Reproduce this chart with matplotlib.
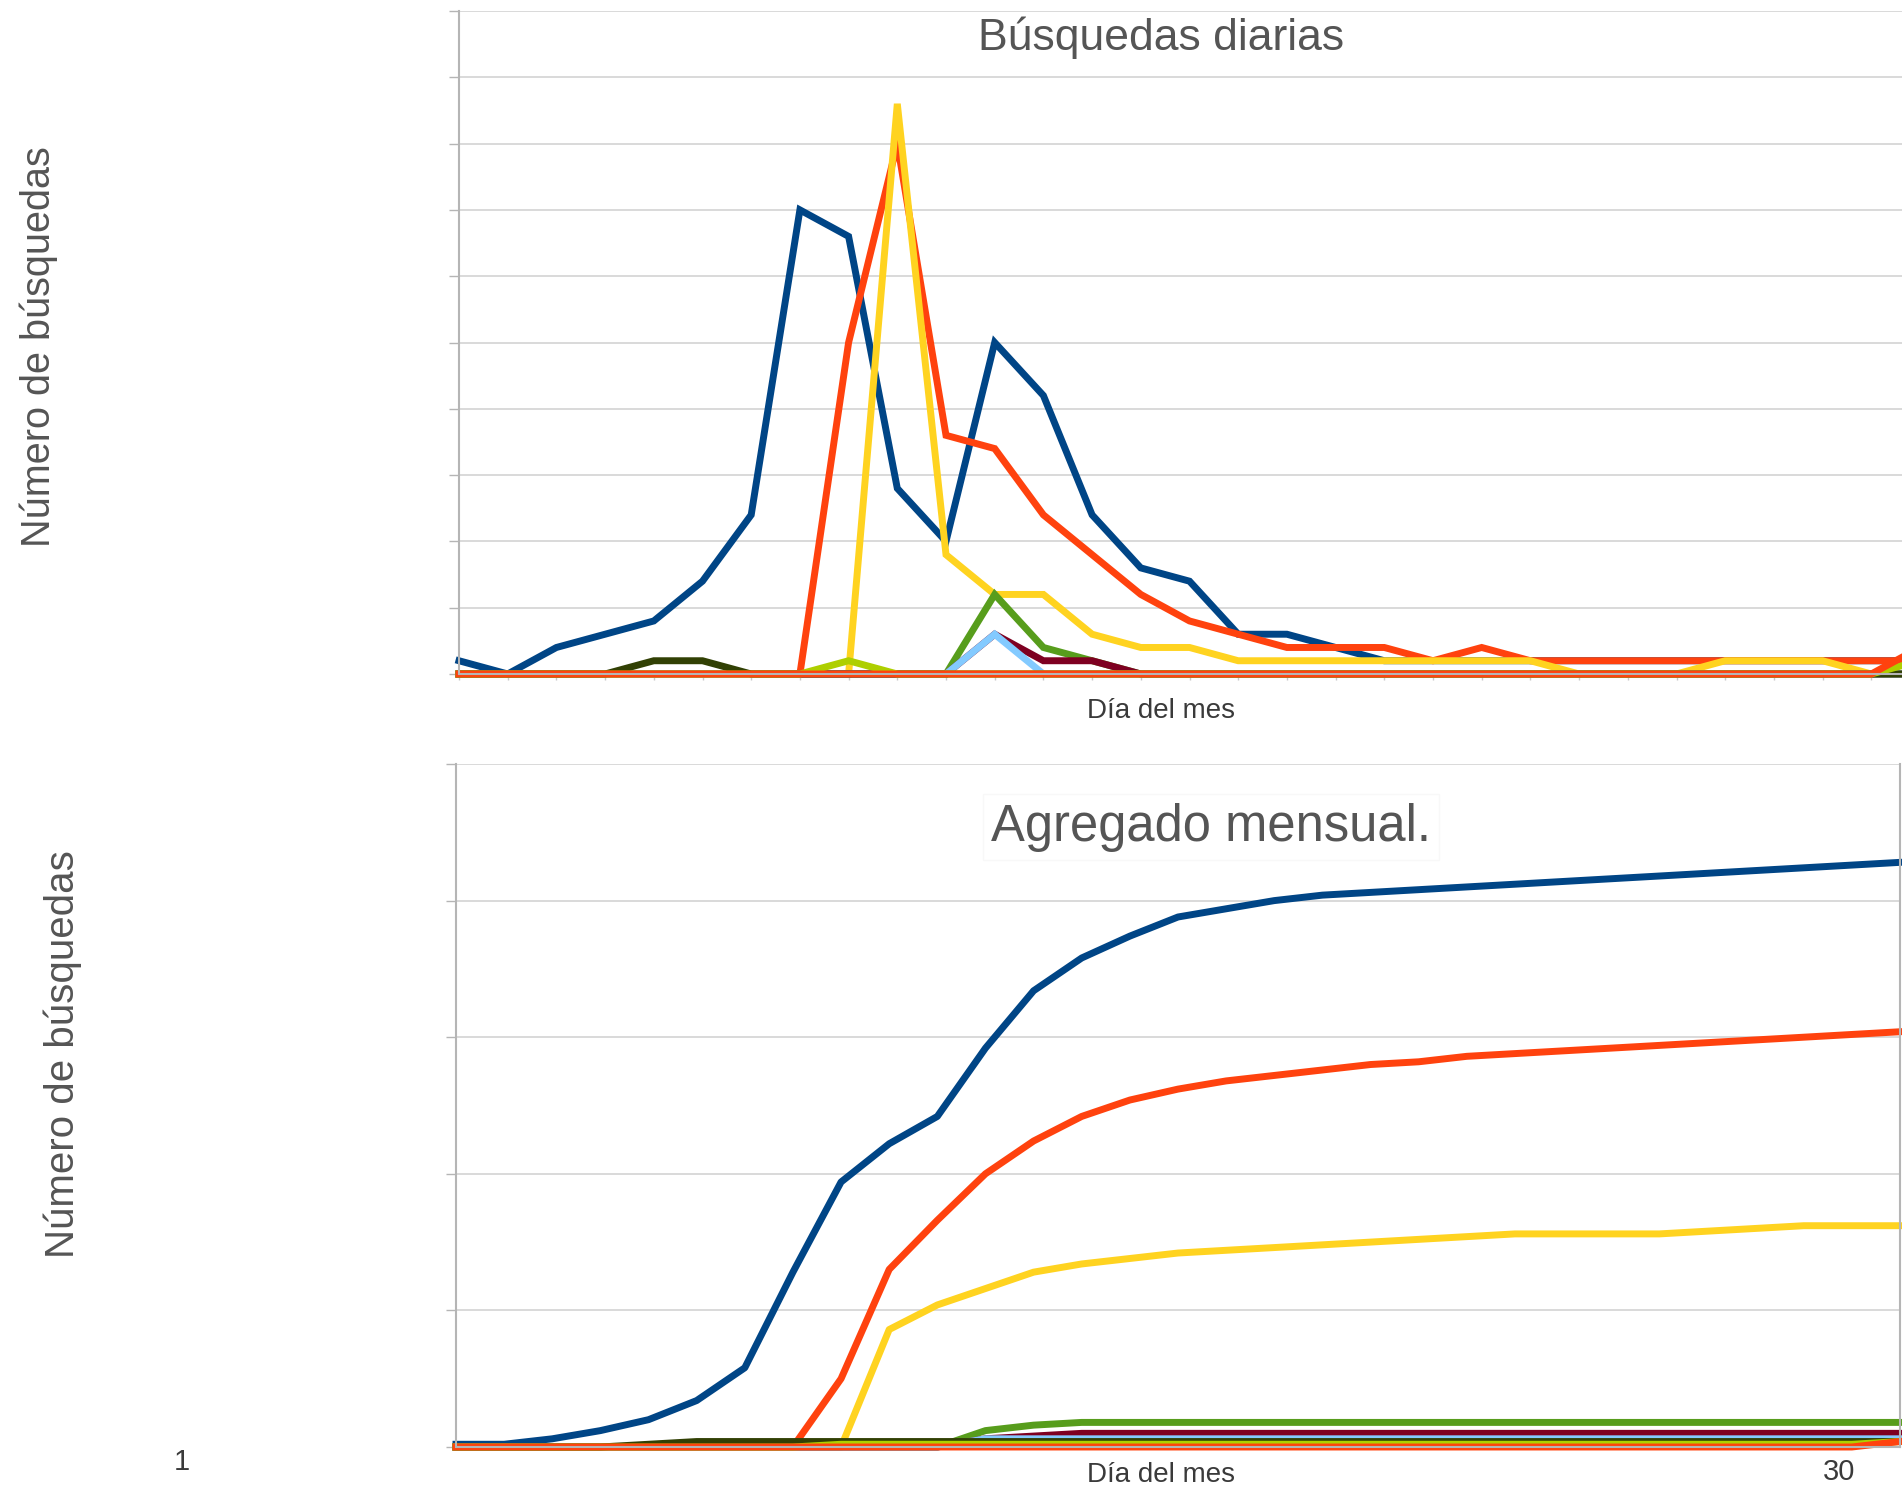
import numpy as np
import matplotlib.pyplot as plt

plt.rcParams['font.family'] = ['Liberation Sans', 'DejaVu Sans']

# Días del mes
dias = np.arange(1, 32)

# Búsquedas diarias por serie
azul = [1, 0, 2, 3, 4, 7, 12, 35, 33, 14, 10, 25, 21, 12, 8, 7, 3, 3, 2, 1,
        1, 1, 1, 1, 1, 1, 1, 1, 1, 1, 1]
rojo = [0, 0, 0, 0, 0, 0, 0, 0, 25, 40, 18, 17, 12, 9, 6, 4, 3, 2, 2, 2,
        1, 2, 1, 1, 1, 1, 1, 1, 1, 1, 1]
amarillo = [0, 0, 0, 0, 0, 0, 0, 0, 0, 43, 9, 6, 6, 3, 2, 2, 1, 1, 1, 1,
            1, 1, 1, 0, 0, 0, 1, 1, 1, 0, 0]
verde = [0, 0, 0, 0, 0, 0, 0, 0, 0, 0, 0, 6, 2, 1, 0, 0, 0, 0, 0, 0,
         0, 0, 0, 0, 0, 0, 0, 0, 0, 0, 0]
granate = [0, 0, 0, 0, 0, 0, 0, 0, 0, 0, 0, 3, 1, 1, 0, 0, 0, 0, 0, 0,
           0, 0, 0, 0, 0, 0, 0, 0, 0, 0, 0]
celeste = [0, 0, 0, 0, 0, 0, 0, 0, 0, 0, 0, 3, 0, 0, 0, 0, 0, 0, 0, 0,
           0, 0, 0, 0, 0, 0, 0, 0, 0, 0, 0]
oliva = [0, 0, 0, 0, 1, 1, 0, 0, 0, 0, 0, 0, 0, 0, 0, 0, 0, 0, 0, 0,
         0, 0, 0, 0, 0, 0, 0, 0, 0, 0, 0]
lima = [0, 0, 0, 0, 0, 0, 0, 0, 1, 0, 0, 0, 0, 0, 0, 0, 0, 0, 0, 0,
        0, 0, 0, 0, 0, 0, 0, 0, 0, 0, 1]
naranja = [0, 0, 0, 0, 0, 0, 0, 0, 0, 0, 0, 0, 0, 0, 0, 0, 0, 0, 0, 0,
           0, 0, 0, 0, 0, 0, 0, 0, 0, 0, 2]

series = [azul, rojo, amarillo, verde, granate, celeste, oliva, lima, naranja]
colores = ['#004586', '#FF420E', '#FFD320', '#579D1C', '#7E0021',
           '#83CAFF', '#314004', '#AECF00', '#FF420E']

W, H = 1902, 1490
fig = plt.figure(figsize=(W / 100, H / 100), dpi=100)
fig.patch.set_facecolor('white')

gris_grid = '#cfcfcf'
gris_eje = '#b5b5b5'
lw = 5.0


def preparar(ax, ymax, paso):
    ax.set_xlim(1, 31)
    ax.set_ylim(0, ymax)
    ax.set_yticks(np.arange(0, ymax + 1, paso))
    ax.set_xticks(dias)
    ax.tick_params(axis='y', direction='out', length=7, width=1.0,
                   color=gris_eje, labelleft=False)
    ax.tick_params(axis='x', direction='out', length=4, width=1,
                   color='#c8c8c8', labelbottom=False)
    ax.yaxis.grid(True, color=gris_grid, lw=1.1)
    ax.set_axisbelow(True)
    for s in ['left', 'bottom', 'right', 'top']:
        ax.spines[s].set_color(gris_eje)
        ax.spines[s].set_linewidth(1.5)
    ax.spines['top'].set_visible(False)


# Gráfico superior: búsquedas diarias
ax1 = fig.add_axes([459 / W, 1 - 674 / H, (1920 - 459) / W, (674 - 11) / H])
preparar(ax1, 50, 5)
ax1.spines['right'].set_visible(False)
for vals, c in zip(series, colores):
    ax1.plot(dias, vals, color=c, lw=lw, solid_joinstyle='miter', clip_on=False)

# Gráfico inferior: agregado mensual
ax2 = fig.add_axes([456 / W, 1 - 1447 / H, 1444 / W, (1447 - 764) / H])
preparar(ax2, 250, 50)
ax2.tick_params(axis='x', length=0)
for vals, c in zip(series, colores):
    ax2.plot(dias, np.cumsum(vals), color=c, lw=lw, clip_on=False)

# Textos
col_tit = '#555555'
col_txt = '#3a3a3a'
fig.text(1161 / W, 1 - 38 / H, 'Búsquedas diarias', ha='center', va='center',
         fontsize=32, color=col_tit)
fig.text(1161 / W, 1 - 711 / H, 'Día del mes', ha='center', va='center',
         fontsize=20, color=col_txt)
fig.text(39 / W, 1 - 347 / H, 'Número de búsquedas', rotation=90,
         ha='center', va='center', fontsize=28.5, color=col_tit)

fig.text(1211 / W, 1 - 827 / H, 'Agregado mensual.', ha='center', va='center',
         fontsize=36.5, color=col_tit,
         bbox=dict(facecolor='white', edgecolor='#f8f8f8', pad=6))
fig.text(1161 / W, 1 - 1475 / H, 'Día del mes', ha='center', va='center',
         fontsize=20, color=col_txt)
fig.text(63 / W, 1 - 1054 / H, 'Número de búsquedas', rotation=90,
         ha='center', va='center', fontsize=29, color=col_tit)
fig.text(182 / W, 1 - 1462 / H, '1', ha='center', va='center',
         fontsize=21, color=col_txt)
fig.text(1839 / W, 1 - 1472 / H, '30', ha='center', va='center',
         fontsize=21, color=col_txt)

fig.savefig('out.png', dpi=100, facecolor='white')
